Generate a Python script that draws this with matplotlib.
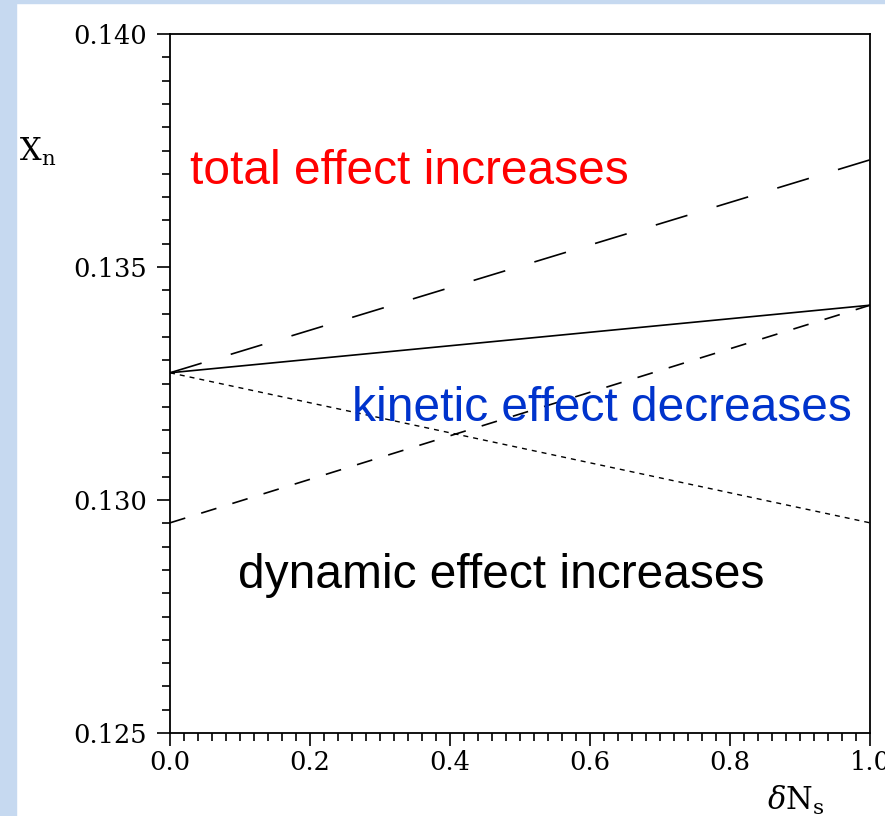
import matplotlib
matplotlib.use('Agg')
import matplotlib.pyplot as plt
from matplotlib.patches import Rectangle
from matplotlib.ticker import MultipleLocator

# Curves: x = delta N_s, y = X_n
dn = [0.0, 1.0]
total = [0.13273, 0.13418]
upper = [0.13273, 0.13730]
lower = [0.12951, 0.13418]
dotted = [0.13273, 0.12951]

xticks = [0.0, 0.2, 0.4, 0.6, 0.8, 1.0]
yticks = [0.125, 0.130, 0.135, 0.140]

plt.rcParams['lines.scale_dashes'] = False
plt.rcParams['mathtext.fontset'] = 'dejavuserif'

fig = plt.figure(figsize=(8.85, 8.16), dpi=100)
fig.patch.set_facecolor('white')
# light blue slide border
fig.patches.append(Rectangle((0, 0), 16 / 885, 1, transform=fig.transFigure,
                             color='#c6d9f0', zorder=0))
fig.patches.append(Rectangle((0, 1 - 3 / 816), 1, 3 / 816, transform=fig.transFigure,
                             color='#c6d9f0', zorder=0))

ax = fig.add_axes([170 / 885, 1 - 733 / 816, 700 / 885, 699 / 816])

ax.plot(dn, total, color='black', lw=1.2)
ax.plot(dn, upper, color='black', lw=1.2, dashes=(23.8, 21.9))
ax.plot(dn, lower, color='black', lw=1.2, dashes=(11.5, 12))
ax.plot(dn, dotted, color='black', lw=1.0, dashes=(3.6, 3.6))

ax.set_xlim(0, 1)
ax.set_ylim(0.125, 0.140)
ax.set_xticks(xticks)
ax.set_yticks(yticks)
ax.set_xticklabels([f'{v:.1f}' for v in xticks])
ax.set_yticklabels([f'{v:.3f}' for v in yticks])
ax.xaxis.set_minor_locator(MultipleLocator(0.02))
ax.yaxis.set_minor_locator(MultipleLocator(0.0005))
ax.tick_params(which='major', direction='out', length=9.5, width=1.2,
               labelsize=18.5, pad=3)
ax.tick_params(axis='y', which='major', pad=7)
ax.tick_params(which='minor', direction='out', length=6, width=1.2)
for lab in ax.get_xticklabels() + ax.get_yticklabels():
    lab.set_family('DejaVu Serif')
for s in ax.spines.values():
    s.set_linewidth(1.3)

fig.text(19 / 885, 1 - 152 / 816, r'$\mathrm{X_n}$', fontsize=22, va='center', ha='left')
fig.text(796 / 885, 1 - 800 / 816, r'$\delta\mathrm{N_s}$', fontsize=22, va='center', ha='center')

ax.text(0.0286, 0.13704, 'total effect increases', color='#ff0000', fontsize=34.5,
        family='Liberation Sans', va='center', ha='left')
ax.text(0.26, 0.13197, 'kinetic effect decreases', color='#0033cc', fontsize=34.5,
        family='Liberation Sans', va='center', ha='left')
ax.text(0.097, 0.12839, 'dynamic effect increases', color='black', fontsize=34.5,
        family='Liberation Sans', va='center', ha='left')

fig.savefig('out.png', dpi=100)
